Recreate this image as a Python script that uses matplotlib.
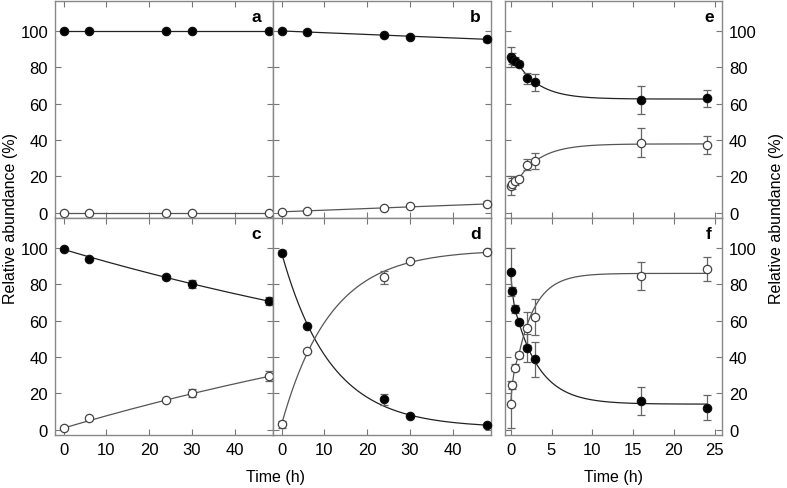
import matplotlib
matplotlib.use('Agg')
import matplotlib.pyplot as plt
import numpy as np

plt.rcParams['font.family'] = ['Liberation Sans', 'DejaVu Sans']

#------------------------------------------------------------------------------
# data

# sampling times (h)
t_long = [0, 6, 24, 30, 48]
t_short = [0, 0.17, 0.5, 1, 2, 3, 16, 24]

a_filled = [100, 100, 100, 100, 100]
a_filled_err = [0, 0, 0, 0, 0]
a_open = [0, 0, 0, 0, 0]
a_open_err = [0, 0, 0, 0, 0]

b_filled = [100, 99.4, 97.6, 96.7, 95.4]
b_filled_err = [0, 0, 0, 0, 1.5]
b_open = [0.4, 0.9, 2.6, 3.5, 4.8]
b_open_err = [0, 0, 0, 0, 1.3]

c_filled = [99.2, 94.1, 83.9, 80.2, 70.9]
c_filled_err = [0, 0, 1.0, 2.2, 2.3]
c_open = [0.9, 6.3, 16.4, 20.1, 29.5]
c_open_err = [0, 0, 0.5, 2.2, 2.5]

d_filled = [97.4, 57.0, 16.6, 7.4, 2.4]
d_filled_err = [1.5, 0, 3.2, 0, 0]
d_open = [2.8, 43.3, 83.8, 93.0, 97.9]
d_open_err = [1.8, 0, 3.5, 0, 0]

e_filled = [85.6, 84.6, 83.4, 81.9, 73.9, 71.7, 61.9, 62.9]
e_filled_err = [5.4, 3, 2, 1.5, 3, 4.5, 7.8, 4.7]
e_open = [14.8, 15.9, 17.2, 18.7, 26.4, 28.3, 38.5, 37.2]
e_open_err = [5.4, 3, 2, 1.5, 3.2, 4.5, 8, 5]

f_filled = [86.7, 76.5, 66.4, 59.0, 44.7, 38.7, 15.7, 12.0]
f_filled_err = [13.3, 2, 2, 1.5, 7.7, 9.7, 7.8, 6.9]
f_open = [13.8, 24.3, 34.1, 41.1, 55.7, 61.8, 84.8, 88.4]
f_open_err = [13, 2, 2, 1.5, 9.2, 9.9, 7.7, 6.7]

# fitted curves y = plateau + amp * exp(-rate * t): (plateau, amp, rate)
a_fit = [(100, 0, 0), (0, 0, 0)]
b_fit = [(0, 100, 0.00098), (100, -99.6, 0.000925)]
c_fit = [(0, 99.2, 0.00705), (100, -99.2, 0.00705)]
d_fit = [(1, 96.4, 0.0874), (99, -96.2, 0.0874)]
e_fit = [(62.5, 26.8, 0.357), (37.8, -27.1, 0.35)]
f_fit = [(14, 62.6, 0.33), (86, -70, 0.45)]

yticks = [0, 20, 40, 60, 80, 100]


def fit_line(t, fit, t_fit_from):
    # fitted curve from t_fit_from to the last time point
    t = np.asarray(t, float)
    plateau, amp, rate = fit
    tt = np.linspace(t_fit_from, t[-1], 300)
    yy = plateau + amp * np.exp(-rate * tt)
    return tt, yy


def draw_panel(ax, t, filled, filled_err, opn, opn_err, fits, t_fit_from):

    line_col = '#222222'
    grey = '#555555'

    for y, err, fit, face, lc in [(filled, filled_err, fits[0], 'black', line_col),
                                  (opn, opn_err, fits[1], 'white', grey)]:
        # early points joined directly, then the fitted curve
        tt, yy = fit_line(t, fit, t_fit_from)
        early_t = [ti for ti in t if ti < t_fit_from]
        early_y = [yi for ti, yi in zip(t, y) if ti < t_fit_from]
        ax.plot(list(early_t) + list(tt), list(early_y) + list(yy),
                color=lc, lw=0.9, zorder=2)
        ax.errorbar(t, y, yerr=err, fmt='none', ecolor='#666666',
                    elinewidth=0.9, capsize=3.2, capthick=0.9, zorder=3)
        ax.plot(t, y, 'o', ms=6.0, mfc=face,
                mec='#111111' if face == 'black' else '#444444',
                mew=0.9, zorder=4, clip_on=False)

    ax.set_ylim(-3, 116.5)
    ax.set_yticks(yticks)
    ax.tick_params(direction='in', length=4, width=0.8, color='#777777',
                   top=True, right=True, labelsize=12, pad=5)
    for sp in ax.spines.values():
        sp.set_color('#888888')
        sp.set_linewidth(1.0)


def main():

    fig = plt.figure(figsize=(7.87, 4.89), dpi=100)

    W, H = 787.0, 489.0

    def box(x0, x1, y0, y1):
        return [x0 / W, 1 - y1 / H, (x1 - x0) / W, (y1 - y0) / H]

    ax_a = fig.add_axes(box(55, 273, 2, 219))
    ax_b = fig.add_axes(box(273, 491, 2, 219))
    ax_c = fig.add_axes(box(55, 273, 219, 436))
    ax_d = fig.add_axes(box(273, 491, 219, 436))
    ax_e = fig.add_axes(box(505, 722, 2, 219))
    ax_f = fig.add_axes(box(505, 722, 219, 436))

    #--------------------------------------------------------------------------
    # long incubations (a - d)

    draw_panel(ax_a, t_long, a_filled, a_filled_err, a_open, a_open_err, a_fit, 0)
    draw_panel(ax_b, t_long, b_filled, b_filled_err, b_open, b_open_err, b_fit, 0)
    draw_panel(ax_c, t_long, c_filled, c_filled_err, c_open, c_open_err, c_fit, 0)
    draw_panel(ax_d, t_long, d_filled, d_filled_err, d_open, d_open_err, d_fit, 0)

    for ax in [ax_a, ax_b, ax_c, ax_d]:
        ax.set_xlim(-2, 49)
        ax.set_xticks([0, 10, 20, 30, 40])

    #--------------------------------------------------------------------------
    # short incubations (e - f)

    draw_panel(ax_e, t_short, e_filled, e_filled_err, e_open, e_open_err, e_fit, 1)
    draw_panel(ax_f, t_short, f_filled, f_filled_err, f_open, f_open_err, f_fit, 1)

    for ax in [ax_e, ax_f]:
        ax.set_xlim(-0.7, 25.9)
        ax.set_xticks([0, 5, 10, 15, 20, 25])
        ax.tick_params(labelleft=False, labelright=True)

    for ax in [ax_a, ax_b, ax_e]:
        ax.tick_params(labelbottom=False)
    for ax in [ax_b, ax_d]:
        ax.tick_params(labelleft=False)

    # panel letters
    for ax, letter, x in [(ax_a, 'a', 0.925), (ax_b, 'b', 0.927), (ax_c, 'c', 0.925),
                          (ax_d, 'd', 0.927), (ax_e, 'e', 0.94), (ax_f, 'f', 0.94)]:
        ax.text(x, 0.93, letter, transform=ax.transAxes, ha='center', va='center',
                fontsize=12.5, fontweight='bold')

    #--------------------------------------------------------------------------
    # axis labels

    fig.text(11 / W, 1 - 219 / H, 'Relative abundance (%)', rotation=90,
             ha='center', va='center', fontsize=11.5)
    fig.text(777 / W, 1 - 219 / H, 'Relative abundance (%)', rotation=90,
             ha='center', va='center', fontsize=11.5)
    fig.text(275 / W, 1 - 478 / H, 'Time (h)', ha='center', va='center', fontsize=11.5)
    fig.text(613 / W, 1 - 478 / H, 'Time (h)', ha='center', va='center', fontsize=11.5)

    fig.savefig('out.png', dpi=100)


if __name__ == "__main__":
    main()
